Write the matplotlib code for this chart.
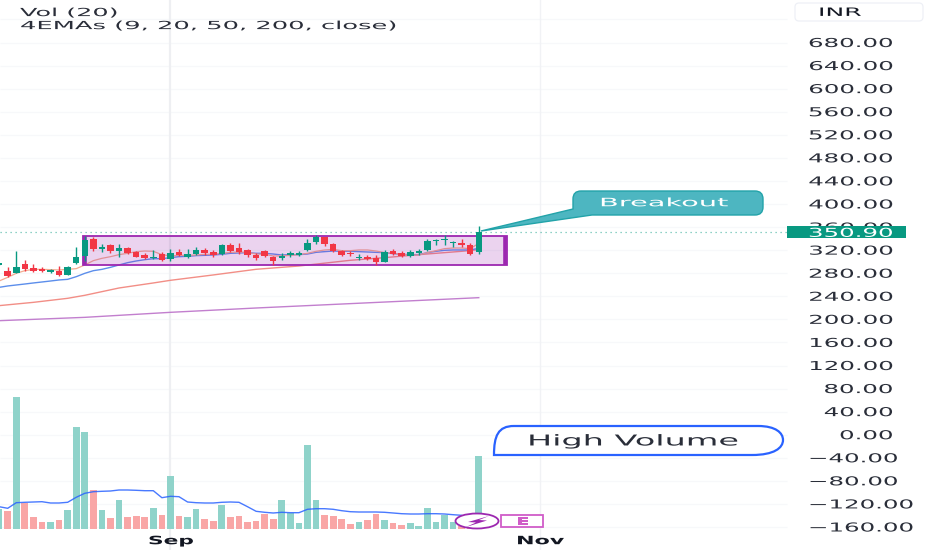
import numpy as np
import matplotlib
matplotlib.use('Agg')
import matplotlib.pyplot as plt
from matplotlib.patches import Rectangle, Ellipse, PathPatch, Polygon, FancyBboxPatch
from matplotlib.path import Path
from matplotlib.patheffects import AbstractPathEffect
from matplotlib.transforms import Affine2D

# Candles, first one is half off the left edge
first_bar = -1
opens = [293.7, 283.3, 281.0, 296.0, 289.1, 287.3, 282.7, 283.9, 276.9, 297.2, 309.9, 339.9, 322.6, 328.9, 318.5,
         323.7, 316.8, 311.0, 306.4, 313.3, 304.1, 317.4, 307.6, 313.3, 320.3, 316.8, 312.8, 329.5, 323.7, 320.3,
         311.0, 318.0, 308.7, 306.4, 312.2, 312.2, 320.3, 334.2, 342.2, 330.7, 318.0, 315.1, 305.8, 308.7, 306.4,
         300.0, 319.1, 315.7, 309.9, 315.7, 320.3, 335.3, 337.6, 331.8, 333.0, 328.4, 316.8]
highs = [298.3, 290.2, 318.5, 302.9, 296.0, 290.2, 287.9, 292.5, 293.1, 324.9, 344.6, 343.4, 330.7, 330.7, 330.7,
         324.9, 319.1, 314.5, 320.3, 316.8, 322.6, 321.4, 321.4, 326.1, 323.7, 320.3, 330.7, 333.0, 331.8, 321.4,
         314.5, 320.3, 309.9, 314.5, 319.1, 318.0, 338.8, 345.7, 343.4, 333.0, 320.3, 318.0, 313.3, 311.0, 312.2,
         320.3, 322.6, 318.0, 320.3, 322.6, 338.8, 339.9, 345.7, 336.5, 338.8, 331.8, 361.9]
lows = [293.7, 272.9, 281.0, 284.4, 282.1, 282.1, 279.8, 275.2, 276.4, 296.0, 301.8, 319.1, 316.8, 315.7, 308.7,
        313.3, 307.6, 304.1, 305.2, 301.8, 301.8, 309.9, 306.4, 312.2, 312.2, 308.7, 312.2, 316.8, 313.3, 308.7,
        302.9, 308.7, 294.9, 302.9, 307.6, 310.5, 318.0, 330.7, 327.2, 316.8, 309.9, 309.9, 302.9, 302.9, 294.9,
        299.5, 312.2, 308.7, 308.7, 312.2, 319.1, 328.4, 329.5, 324.9, 326.1, 311.0, 313.3]
closes = [297.2, 275.2, 290.2, 286.7, 283.3, 284.4, 286.2, 276.9, 290.2, 307.6, 337.6, 321.4, 326.1, 318.5, 323.2,
          314.5, 308.7, 305.8, 308.7, 302.9, 314.5, 312.2, 313.3, 320.3, 314.5, 311.6, 328.9, 319.1, 316.8, 311.6,
          306.4, 309.9, 301.8, 309.3, 314.5, 315.7, 333.0, 343.4, 330.7, 319.1, 312.2, 312.8, 308.7, 304.7, 299.5,
          316.2, 313.3, 310.5, 316.8, 319.1, 336.5, 337.6, 338.8, 334.2, 328.4, 313.3, 350.9]

volume = [197, 183, 1317, 263, 123, 73, 67, 90, 190, 1017, 970, 390, 190, 110, 290, 123, 130, 123, 207, 137, 530,
          130, 123, 197, 100, 83, 243, 117, 130, 73, 80, 150, 97, 290, 163, 57, 840, 290, 140, 133, 100, 47, 67, 90,
          153, 90, 60, 37, 63, 30, 210, 70, 140, 70, 30, 17, 730]
vol_ma = [223, 207, 263, 267, 270, 273, 260, 260, 267, 317, 357, 373, 377, 380, 390, 390, 387, 383, 383, 313, 327,
          323, 270, 263, 260, 260, 267, 270, 267, 223, 177, 167, 160, 167, 163, 163, 197, 203, 203, 197, 183, 173,
          170, 170, 170, 167, 160, 153, 150, 150, 153, 153, 150, 143, 137]

ema9 = [266.5, 272.9, 279.8, 284.4, 286.7, 286.7, 286.2, 285.6, 286.7, 287.9, 294.3, 301.8, 305.8, 308.7, 312.2,
        314.5, 317.4, 318.5, 318.0, 312.2, 309.9, 311.0, 311.0, 311.6, 312.8, 312.8, 314.5, 316.2, 316.8, 316.2,
        313.3, 312.8, 309.9, 309.9, 311.0, 312.2, 314.5, 318.0, 320.3, 321.4, 319.1, 319.1, 320.3, 320.3, 318.5,
        315.7, 314.5, 312.2, 311.6, 311.6, 315.7, 319.1, 322.6, 323.7, 323.7, 322.6, 331.8]
ema20 = [255.5, 257.9, 259.6, 261.3, 263.1, 264.8, 266.5, 268.3, 269.4, 274.0, 279.8, 284.4, 286.7, 290.2, 294.3,
         298.3, 301.2, 303.5, 305.2, 305.2, 307.0, 308.7, 309.3, 310.5, 311.0, 311.6, 312.8, 314.5, 315.1, 315.7,
         314.5, 314.5, 313.3, 311.6, 312.2, 312.2, 313.3, 316.2, 317.4, 318.5, 318.0, 318.0, 317.4, 316.8, 316.2,
         315.7, 313.9, 312.8, 312.2, 312.2, 315.7, 318.0, 319.7, 320.3, 320.3, 320.3, 323.2]
ema50_bars = [-1, 3, 7, 9, 13, 17, 19, 24, 29, 34, 40, 44, 48, 53, 55]
ema50 = [223.8, 229.5, 236.5, 241.7, 254.4, 263.1, 267.7, 277.0, 286.8, 292.5, 302.4, 307.0, 312.2, 318.0, 320.9]
ema200_bars = [-1, 9, 19, 29, 55]
ema200 = [197.7, 203.5, 212.2, 219.7, 237.6]

price_ticks = [680, 640, 600, 560, 520, 480, 440, 400, 360, 320, 280, 240, 200, 160, 120, 80, 40, 0, -40, -80, -120, -160]
last_price = 350.9
box_top, box_bottom = 344.6, 293.7
box_left, box_right = 8.8, 58.3
sep_bar, nov_bar = 18.95, 62.1

teal, red = '#089981', '#F23645'
text_col = '#131722'
W, H = 932, 550
bar_px = 8.565
x0_px = 7.7
px_per_price = 0.5768
pane_right = 787


class StretchX(AbstractPathEffect):
    # the reference has been squeezed vertically, so widen glyphs from their left end
    def __init__(self, sx):
        super().__init__()
        self.sx = sx

    def draw_path(self, renderer, gc, tpath, affine, rgbFace=None):
        x0 = affine.get_matrix()[0, 2]
        stretched = affine + Affine2D().translate(-x0, 0).scale(self.sx, 1).translate(x0, 0)
        renderer.draw_path(gc, tpath, stretched, rgbFace)


fig = plt.figure(figsize=(W / 100, H / 100), dpi=100)
ax = fig.add_axes([0, 0, 1, 1])
ax.set_xlim(-x0_px / bar_px, (W - x0_px) / bar_px)
ax.set_ylim(680 - (H - 42.5) / px_per_price, 680 + 42.5 / px_per_price)
ax.axis('off')
xmax_grid = (pane_right - x0_px) / bar_px

# volume gets its own scale, sharing the bar positions
ax_vol = fig.add_axes([0, 0, 1, 1], sharex=ax)
ax_vol.set_ylim(-210, 5290)
ax_vol.patch.set_alpha(0)
ax_vol.axis('off')

# overlay in image pixels for drawings and text
ov = fig.add_axes([0, 0, 1, 1])
ov.set_xlim(0, W)
ov.set_ylim(H, 0)
ov.patch.set_alpha(0)
ov.axis('off')
renderer = fig.canvas.get_renderer()

bars = np.arange(len(opens)) + first_bar
ax.hlines(price_ticks + [720], ax.get_xlim()[0], xmax_grid, color='#F7F8FA', lw=0.9, zorder=0)
ax.vlines([nov_bar], -200, 760, color='#F1F2F5', lw=1.0, zorder=0)
ax.vlines([sep_bar], -200, 760, color='#EEEFF2', lw=1.6, zorder=0)

ax.plot(ema200_bars, ema200, color='#C27FCE', lw=1.0, zorder=2)
ax.plot(ema50_bars, ema50, color='#F28E86', lw=1.0, zorder=2)
ax.plot(bars, ema20, color='#5C8EEB', lw=1.0, zorder=2)
ax.plot(bars, ema9, color='#F3AB90', lw=0.9, zorder=2)

ax.add_patch(Rectangle((box_left, box_bottom), box_right - box_left, box_top - box_bottom,
                       facecolor='#9C27B0', alpha=0.2, edgecolor='none', zorder=3))
ax.add_patch(Rectangle((box_left, box_bottom), box_right - box_left, box_top - box_bottom,
                       facecolor='none', edgecolor='#9C27B0', lw=1.3, zorder=3))
ax.vlines([box_left + 0.2, box_right - 0.2], box_bottom, box_top, color='#9C27B0', lw=2.6, zorder=3)

ax.hlines([last_price], ax.get_xlim()[0], xmax_grid, color=teal, lw=0.9, linestyles=(0, (1, 3)), alpha=0.6, zorder=2)

for x, o, h, l, c in zip(bars, opens, highs, lows, closes):
    col = teal if c >= o else red
    ax.vlines(x, l, h, color=col, lw=1.0, zorder=4)
    ax.add_patch(Rectangle((x - 0.38, min(o, c)), 0.76, max(abs(c - o), 0.8), facecolor=col, edgecolor='none', zorder=4))

vol_cols = ['#8FD3CA' if c >= o else '#F9A6A6' for o, c in zip(opens, closes)]
ax_vol.bar(bars, volume, width=0.78, color=vol_cols, zorder=2)
ax_vol.plot(bars[:len(vol_ma)], vol_ma, color='#2962FF', lw=1.0, alpha=0.85, zorder=3)


def stretched_text(x, yc, s, em_px, width=None, sx=None, color=text_col, weight='normal', zorder=10):
    t = ov.text(x, yc + 0.365 * em_px, s, fontsize=em_px * 0.72, color=color, fontweight=weight,
                ha='left', va='baseline', family='DejaVu Sans', zorder=zorder)
    natural = t.get_window_extent(renderer).width
    if sx is None:
        sx = width / natural
    t.set_path_effects([StretchX(sx)])
    return t, natural * sx


# tick labels on the right
probe = ov.text(0, 0, '680.00', fontsize=12.3 * 0.72, family='DejaVu Sans')
tick_sx = 85 / probe.get_window_extent(renderer).width
probe.remove()
for p in price_ticks:
    y = 42.5 + (680 - p) * px_per_price
    label = f'{p:.2f}'.replace('-', '\u2212')
    t, w = stretched_text(808, y, label, 12.3, sx=tick_sx, color='#2A2E39', zorder=6)
    if p >= 0:
        t.set_x(893 - w)

# last price tag
tag_y = 42.5 + (680 - last_price) * px_per_price
ov.add_patch(Rectangle((787, tag_y - 6), 119, 12, facecolor=teal, edgecolor='none', zorder=7))
stretched_text(808, tag_y, f'{last_price:.2f}', 12.3, sx=tick_sx, color='white', zorder=8)

# currency button
ov.add_patch(FancyBboxPatch((798, 6), 122, 12, boxstyle='round,pad=3,rounding_size=4',
                            facecolor='white', edgecolor='#EEF0F6', lw=0.9, zorder=5))
stretched_text(818, 11.7, 'INR', 11.5, width=44)

# legend
stretched_text(20, 12, 'Vol (20)', 11.2, width=99, color='#2A2E39')
stretched_text(20, 25, '4EMAs (9, 20, 50, 200, close)', 11.2, width=380, color='#2A2E39')

# date labels
stretched_text(148, 540, 'Sep', 11.5, width=46, weight='bold')
stretched_text(516, 540, 'Nov', 11.5, width=48, weight='bold')

# breakout callout
callout = Path([(573, 209), (481, 231), (592, 215), (755, 215), (763, 215), (763, 207), (763, 199), (763, 191),
                (755, 191), (581, 191), (573, 191), (573, 199), (573, 209)],
               [Path.MOVETO, Path.LINETO, Path.LINETO, Path.LINETO, Path.CURVE3, Path.CURVE3, Path.LINETO,
                Path.CURVE3, Path.CURVE3, Path.LINETO, Path.CURVE3, Path.CURVE3, Path.CLOSEPOLY])
ov.add_patch(PathPatch(callout, facecolor='#4DB6C1', edgecolor='#22A3A9', lw=1.0, zorder=5))
stretched_text(599, 202, 'Breakout', 11.6, width=130, color='white')

# high volume note
hv = Path([(494, 455), (494, 436), (498, 426), (514, 426), (758, 426), (776, 426), (783, 433), (783, 440),
           (783, 448), (774, 455), (752, 455), (494, 455)],
          [Path.MOVETO, Path.CURVE4, Path.CURVE4, Path.CURVE4, Path.LINETO, Path.CURVE4, Path.CURVE4, Path.CURVE4,
           Path.CURVE4, Path.CURVE4, Path.CURVE4, Path.CLOSEPOLY])
ov.add_patch(PathPatch(hv, facecolor='white', edgecolor='#2962FF', lw=1.6, zorder=5))
stretched_text(527, 440, 'High Volume', 15, width=213, color='#2A2E39')

# bolt and earnings badges at the bottom
ov.add_patch(Ellipse((477, 521), 43, 15, facecolor='white', edgecolor='#9C27B0', lw=1.3, zorder=6))
ov.add_patch(Polygon([(489, 516), (468, 522), (476, 522.5), (466, 527), (487, 520.5), (479, 520)],
                     closed=True, facecolor='#9C27B0', edgecolor='none', zorder=7))
ov.add_patch(Rectangle((501, 515), 42, 12, facecolor='white', edgecolor='#D05CC8', lw=1.3, zorder=6))
stretched_text(516, 521, 'E', 10.5, width=14, color='#D05CC8', weight='bold')

fig.savefig('out.png', dpi=100, facecolor='white')
